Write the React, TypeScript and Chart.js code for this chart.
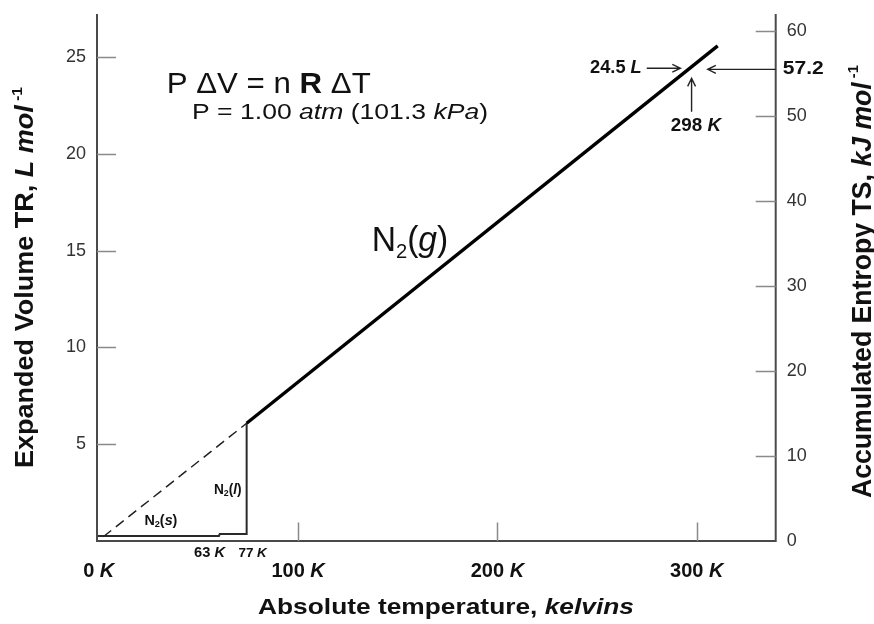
import React, { useEffect, useRef } from "react";
import { Chart, registerables } from "chart.js";

Chart.register(...registerables);

// ---- data (kelvins, L/mol) ----
const gasT = [74.2, 310.5];
const gasV = [6.08, 25.57];
const dashT = [2.3, 74.2];
const dashV = [0.22, 6.08];
const condT = [-0.87, 60.3, 60.7, 74.2, 74.2];
const condV = [0.26, 0.26, 0.36, 0.36, 6.08];

// ---- axes ----
const xMin = -0.87;
const xMax = 339.6;
const yMax = 27.22;
const y2Max = 62;
const leftTicks = [5, 10, 15, 20, 25];
const rightTicks = [0, 10, 20, 30, 40, 50, 60];
const bottomTicks = [0, 100, 200, 300];

type Run = { t: string; size: number; bold?: boolean; italic?: boolean; dy?: number };

const FAM = '"Liberation Sans", Arial, Helvetica, sans-serif';
const fontOf = (r: Run) =>
  `${r.italic ? "italic " : ""}${r.bold ? "bold " : ""}${r.size}px ${FAM}`;

function drawRich(
  ctx: CanvasRenderingContext2D,
  runs: Run[],
  x: number,
  y: number,
  opts: { align?: "left" | "center" | "right"; width?: number; baseline?: CanvasTextBaseline; color?: string } = {}
) {
  const widths = runs.map((r) => {
    ctx.font = fontOf(r);
    return ctx.measureText(r.t).width;
  });
  const total = widths.reduce((a, b) => a + b, 0);
  const sx = opts.width ? opts.width / total : 1;
  const drawn = total * sx;
  const align = opts.align || "left";
  const x0 = align === "left" ? x : align === "center" ? x - drawn / 2 : x - drawn;
  ctx.save();
  ctx.translate(x0, y);
  ctx.scale(sx, 1);
  ctx.textAlign = "left";
  ctx.textBaseline = opts.baseline || "alphabetic";
  ctx.fillStyle = opts.color || "#111";
  let cx = 0;
  runs.forEach((r, i) => {
    ctx.font = fontOf(r);
    ctx.fillText(r.t, cx, r.dy || 0);
    cx += widths[i];
  });
  ctx.restore();
}

function arrow(ctx: CanvasRenderingContext2D, x1: number, y1: number, x2: number, y2: number) {
  const a = Math.atan2(y2 - y1, x2 - x1);
  const L = 9;
  const W = 0.45;
  ctx.save();
  ctx.strokeStyle = "#222";
  ctx.lineWidth = 1.4;
  ctx.beginPath();
  ctx.moveTo(x1, y1);
  ctx.lineTo(x2, y2);
  ctx.moveTo(x2 - L * Math.cos(a - W), y2 - L * Math.sin(a - W));
  ctx.lineTo(x2, y2);
  ctx.lineTo(x2 - L * Math.cos(a + W), y2 - L * Math.sin(a + W));
  ctx.stroke();
  ctx.restore();
}

const overlay = {
  id: "overlay",
  afterDraw(chart: any) {
    const ctx: CanvasRenderingContext2D = chart.ctx;
    const { left, right, top, bottom } = chart.chartArea;
    const xs = chart.scales.x;
    const ys = chart.scales.y;
    const y2s = chart.scales.y2;
    const X = (v: number) => xs.getPixelForValue(v);
    const Y = (v: number) => ys.getPixelForValue(v);

    // axis lines
    ctx.save();
    ctx.strokeStyle = "#4a4a4a";
    ctx.lineWidth = 2;
    ctx.beginPath();
    ctx.moveTo(left, top);
    ctx.lineTo(left, bottom);
    ctx.lineTo(right, bottom);
    ctx.lineTo(right, top);
    ctx.stroke();

    // inward ticks
    ctx.strokeStyle = "#8a8a8a";
    ctx.lineWidth = 1.5;
    ctx.beginPath();
    leftTicks.forEach((v) => {
      const p = Math.round(Y(v)) + 0.5;
      ctx.moveTo(left, p);
      ctx.lineTo(left + 19, p);
    });
    rightTicks.forEach((v) => {
      const p = Math.round(y2s.getPixelForValue(v)) + 0.5;
      if (bottom - p < 3) return;
      ctx.moveTo(right, p);
      ctx.lineTo(right - 20, p);
    });
    bottomTicks.forEach((v) => {
      const p = Math.round(X(v)) + 0.5;
      if (p - left < 4) return;
      ctx.moveTo(p, bottom);
      ctx.lineTo(p, bottom - 18.5);
    });
    ctx.stroke();
    ctx.restore();

    // tick labels
    leftTicks.forEach((v) =>
      drawRich(ctx, [{ t: String(v), size: 18 }], left - 11, Y(v), { align: "right", baseline: "middle", color: "#333" })
    );
    rightTicks.forEach((v) =>
      drawRich(ctx, [{ t: String(v), size: 18 }], right + 11, y2s.getPixelForValue(v), {
        align: "left",
        baseline: "middle",
        color: "#333",
      })
    );
    bottomTicks.forEach((v) =>
      drawRich(
        ctx,
        [
          { t: `${v} `, size: 20, bold: true },
          { t: "K", size: 20, bold: true, italic: true },
        ],
        X(v),
        bottom + 30,
        { align: "center", baseline: "middle" }
      )
    );

    // axis titles
    drawRich(
      ctx,
      [
        { t: "Absolute temperature, ", size: 22, bold: true },
        { t: "kelvins", size: 22, bold: true, italic: true },
      ],
      446,
      614,
      { align: "center", width: 376 }
    );
    ctx.save();
    ctx.translate(33, 277.5);
    ctx.rotate(-Math.PI / 2);
    drawRich(
      ctx,
      [
        { t: "Expanded Volume TR, ", size: 26, bold: true },
        { t: "L mol", size: 26, bold: true, italic: true },
        { t: " -1", size: 15, bold: true, dy: -11 },
      ],
      0,
      0,
      { align: "center", width: 381 }
    );
    ctx.restore();
    ctx.save();
    ctx.translate(871, 281.5);
    ctx.rotate(-Math.PI / 2);
    drawRich(
      ctx,
      [
        { t: "Accumulated Entropy TS, ", size: 27, bold: true },
        { t: "kJ mol", size: 27, bold: true, italic: true },
        { t: " -1", size: 15, bold: true, dy: -13 },
      ],
      0,
      0,
      { align: "center", width: 433 }
    );
    ctx.restore();

    // equations
    drawRich(
      ctx,
      [
        { t: "P \u0394V = n ", size: 30 },
        { t: "R", size: 30, bold: true },
        { t: " \u0394T", size: 30 },
      ],
      X(34.1),
      Y(23.12),
      { align: "left", width: 204 }
    );
    drawRich(
      ctx,
      [
        { t: "P = 1.00 ", size: 22 },
        { t: "atm", size: 22, italic: true },
        { t: " (101.3 ", size: 22 },
        { t: "kPa", size: 22, italic: true },
        { t: ")", size: 22 },
      ],
      X(46.8),
      Y(21.8),
      { align: "left", width: 296 }
    );

    // phase labels
    drawRich(
      ctx,
      [
        { t: "N", size: 35 },
        { t: "2", size: 21, dy: 7 },
        { t: "(", size: 35 },
        { t: "g", size: 35, italic: true },
        { t: ")", size: 35 },
      ],
      X(136.9),
      Y(14.99),
      { align: "left", width: 76.6 }
    );
    drawRich(
      ctx,
      [
        { t: "N", size: 14, bold: true },
        { t: "2", size: 9, bold: true, dy: 3 },
        { t: "(", size: 14, bold: true },
        { t: "s", size: 14, bold: true, italic: true },
        { t: ")", size: 14, bold: true },
      ],
      X(22.9),
      Y(1.03),
      { align: "left", width: 33, baseline: "middle" }
    );
    drawRich(
      ctx,
      [
        { t: "N", size: 14, bold: true },
        { t: "2", size: 9, bold: true, dy: 3 },
        { t: "(", size: 14, bold: true },
        { t: "l", size: 14, bold: true, italic: true },
        { t: ")", size: 14, bold: true },
      ],
      X(57.8),
      Y(2.63),
      { align: "left", width: 27.7, baseline: "middle" }
    );
    drawRich(
      ctx,
      [
        { t: "63 ", size: 14, bold: true },
        { t: "K", size: 14, bold: true, italic: true },
      ],
      X(55.6),
      Y(-0.62),
      { align: "center", width: 31, baseline: "middle" }
    );
    drawRich(
      ctx,
      [
        { t: "77 ", size: 13, bold: true },
        { t: "K", size: 13, bold: true, italic: true },
      ],
      X(77.2),
      Y(-0.62),
      { align: "center", width: 28.4, baseline: "middle" }
    );

    // 298 K annotations
    drawRich(
      ctx,
      [
        { t: "24.5 ", size: 18, bold: true },
        { t: "L", size: 18, bold: true, italic: true },
      ],
      X(272.4),
      Y(24.42),
      { align: "right", width: 51.7, baseline: "middle" }
    );
    drawRich(
      ctx,
      [
        { t: "298 ", size: 18, bold: true },
        { t: "K", size: 18, bold: true, italic: true },
      ],
      X(299.6),
      Y(21.41),
      { align: "center", width: 50.3, baseline: "middle" }
    );
    drawRich(ctx, [{ t: "57.2", size: 19, bold: true }], right + 7, Y(24.38), {
      align: "left",
      width: 41,
      baseline: "middle",
    });
    arrow(ctx, X(274.9), Y(24.42), X(291.8), Y(24.42));
    arrow(ctx, right, Y(24.36), X(305.5), Y(24.36));
    arrow(ctx, X(297.4), Y(22.17), X(297.4), Y(23.9));
  },
};

export default function App() {
  const ref = useRef<HTMLCanvasElement>(null);
  useEffect(() => {
    if (!ref.current) return;
    const pts = (t: number[], v: number[]) => t.map((x, i) => ({ x, y: v[i] }));
    const chart = new Chart(ref.current, {
      type: "line",
      data: {
        datasets: [
          {
            data: pts(gasT, gasV),
            borderColor: "#000",
            borderWidth: 3.4,
            pointRadius: 0,
            fill: false,
            tension: 0,
          },
          {
            data: pts(dashT, dashV),
            borderColor: "#222",
            borderWidth: 1.5,
            borderDash: [10, 6],
            pointRadius: 0,
            fill: false,
            tension: 0,
          },
          {
            data: pts(condT, condV),
            borderColor: "#2a2a2a",
            borderWidth: 2,
            pointRadius: 0,
            fill: false,
            tension: 0,
            borderJoinStyle: "miter",
          },
        ] as any,
      },
      options: {
        responsive: false,
        animation: false,
        devicePixelRatio: 1,
        layout: { padding: { left: 97, right: 98.3, top: 14, bottom: 83 } },
        plugins: { legend: { display: false }, tooltip: { enabled: false } },
        scales: {
          x: { type: "linear", min: xMin, max: xMax, display: false },
          y: { type: "linear", min: 0, max: yMax, display: false },
          y2: { type: "linear", position: "right", min: 0, max: y2Max, display: false },
        },
      },
      plugins: [overlay],
    } as any);
    return () => chart.destroy();
  }, []);
  return (
    <div style={{ position: "absolute", left: 0, top: 0, width: 874, height: 624, background: "#fff" }}>
      <canvas ref={ref} width={874} height={624} style={{ display: "block", width: 874, height: 624 }} />
    </div>
  );
}
